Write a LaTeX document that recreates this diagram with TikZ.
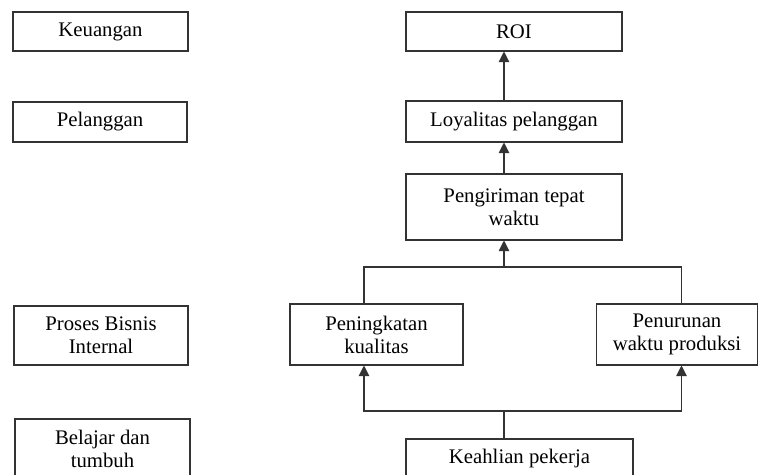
\documentclass[tikz,border=0pt]{standalone}
\usepackage{fontspec}
\setmainfont{Liberation Serif}
\usepackage{tikz}
\usetikzlibrary{arrows.meta}

\begin{document}
\begin{tikzpicture}[x=0.02cm,y=-0.02cm,>={Triangle[length=6pt,width=6pt]},
                    semithick,draw=black!80,
                    every node/.style={draw=black!80,inner sep=0pt,align=center,
                      font=\fontsize{11.8}{13}\selectfont}]

  \clip (0,0) rectangle (758,475);

  % perspektif
  \node[minimum width=3.5cm,minimum height=0.78cm]   (keu)    at (100.5,31.5) {Keuangan};
  \node[minimum width=3.48cm,minimum height=0.8cm]   (pel)    at (100,122)    {Pelanggan};
  \node[minimum width=3.48cm,minimum height=1.18cm]  (proses) at (101,335.5)  {Proses Bisnis\\Internal};
  \node[minimum width=3.5cm,minimum height=1.2cm]    (belajar) at (102.5,449) {Belajar dan\\tumbuh};

  % sasaran
  \node[minimum width=4.32cm,minimum height=0.78cm]  (roi)    at (514,31.5)   {ROI};
  \node[minimum width=4.32cm,minimum height=0.82cm]  (loy)    at (514,121.5)  {Loyalitas pelanggan};
  \node[minimum width=4.32cm,minimum height=1.32cm]  (peng)   at (514,207)    {Pengiriman tepat\\waktu};
  \node[minimum width=3.46cm,minimum height=1.22cm]  (pening) at (376.5,334.5) {Peningkatan\\kualitas};
  \node[minimum width=3.22cm,minimum height=1.22cm]  (penur)  at (677,334.5)  {Penurunan\\waktu produksi};
  \node[minimum width=4.54cm,minimum height=0.8cm]   (keah)   at (519.5,459)  {Keahlian pekerja};

  \coordinate (top) at (504,267);
  \coordinate (bot) at (504,411);
  \coordinate (lx)  at (364,0);
  \coordinate (rx)  at (681.5,0);

  \path[->] (loy.north -| top)  edge (roi.south -| top)
            (peng.north -| top) edge (loy.south -| top)
            (top)               edge (peng.south -| top);

  \draw (pening.north -| lx) |- (top) -| (penur.north -| rx);
  \draw[->] (keah.north -| bot) -- (bot) -| (pening.south -| lx);
  \draw[->] (bot) -| (penur.south -| rx);
\end{tikzpicture}
\end{document}
